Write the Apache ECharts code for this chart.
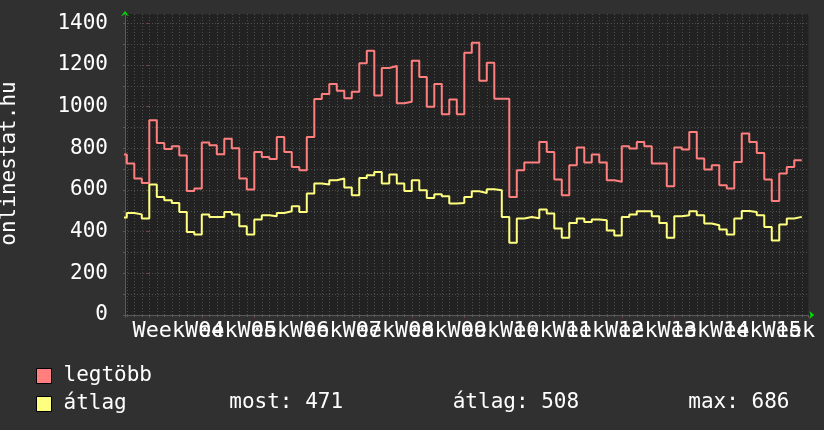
<!DOCTYPE html>
<html><head><meta charset="utf-8">
<script src="https://cdn.jsdelivr.net/npm/echarts@6/dist/echarts.min.js"></script>
<style>html,body{margin:0;padding:0;background:#303030;}#c{width:824px;height:430px;}</style>
</head><body><div id="c"></div>
<script>
// ---- data (daily values, first value is the partially visible day) ----
const seriesNames = ['legtöbb', 'átlag'];
const legtobb = [770,727,655,634,935,826,797,810,766,595,607,828,815,772,846,801,655,602,782,759,749,855,782,711,695,855,
  1037,1061,1109,1076,1041,1072,1208,1269,1054,1186,1195,1017,1024,1221,1142,1000,1109,964,1035,964,1259,1307,1125,1211,1038,1038,
  567,695,732,732,831,782,650,575,719,804,732,770,732,647,640,810,799,831,810,727,727,618,804,794,879,751,698,719,623,607,735,871,831,778,650,547,679,711,743];
const atlag = [468,490,483,463,626,567,551,538,494,398,387,483,470,470,494,483,426,387,458,479,474,490,498,522,494,583,
  631,626,647,655,612,575,658,671,686,631,674,631,595,647,599,562,580,570,535,538,567,594,586,604,599,470,
  347,463,470,465,507,487,415,371,442,463,446,459,455,406,382,470,483,498,498,474,442,371,474,479,498,479,439,431,411,387,463,499,494,479,422,358,435,463,471];
const firstDay = -4;           // day index of the first value (0 = first week boundary)
const weekLabels = ['Week 04','Week 05','Week 06','Week 07','Week 08','Week 09','Week 10','Week 11','Week 12','Week 13','Week 14','Week 15','Week 16'];
const statTexts = ['most: 471', 'átlag: 508', 'max: 686'];
const yTitle = 'onlinestat.hu';

// ---- styling ----
const FONT = 'DejaVu Sans Mono';
const X_MIN = -3.24, X_MAX = 87.87, Y_MAX = 1445;
const minorGrid = {color: '#4e4e4e', type: [1, 2], width: 1};
const majorGrid = {color: '#6e3434', type: [1, 2], width: 1};

function stepData(vals) {
  const d = vals.map((v, i) => [firstDay + i, v]);
  d.push([firstDay + vals.length, vals[vals.length - 1]]); // close the last step
  return d;
}

const chart = echarts.init(document.getElementById('c'), null, {renderer: 'canvas'});
chart.setOption({
  animation: false,
  backgroundColor: '#303030',
  textStyle: {fontFamily: FONT},
  grid: {left: 125, top: 14, width: 683.3, height: 301, show: true, backgroundColor: '#222222', borderWidth: 0,
    outerBoundsMode: 'none', containLabel: false},
  legend: {
    data: seriesNames, orient: 'vertical', left: 31, top: 357, itemWidth: 15, itemHeight: 15, itemGap: 0,
    icon: 'rect', selectedMode: false,
    itemStyle: {borderColor: '#000', borderWidth: 1},
    textStyle: {color: '#ffffff', fontFamily: FONT, fontSize: 21, lineHeight: 28, padding: [0, 0, 0, 7]}
  },
  xAxis: [
    { // daily minor grid
      type: 'value', position: 'bottom', min: X_MIN, max: X_MAX, minInterval: 1, maxInterval: 1, splitNumber: 91, z: 3,
      axisLine: {show: true, onZero: false, lineStyle: {color: '#5a5a5a', width: 1}},
      axisTick: {show: true, length: 2, lineStyle: {color: '#5a5a5a'}},
      axisLabel: {show: false},
      splitLine: {show: true, showMinLine: false, showMaxLine: false, lineStyle: minorGrid}
    },
    { // weekly major grid
      type: 'value', position: 'bottom', min: X_MIN, max: X_MAX, minInterval: 7, maxInterval: 7, splitNumber: 13,
      axisLine: {show: false}, axisTick: {show: true, length: 3, lineStyle: {color: '#8a3a3a'}},
      axisLabel: {show: false},
      splitLine: {show: true, showMinLine: false, showMaxLine: false, lineStyle: majorGrid}
    },
    { // week labels, centred mid-week
      type: 'value', position: 'bottom', min: X_MIN - 3.5, max: X_MAX - 3.5, minInterval: 7, maxInterval: 7, splitNumber: 13,
      axisLine: {show: false}, axisTick: {show: false}, splitLine: {show: false},
      axisLabel: {show: true, showMinLabel: false, showMaxLabel: false, hideOverlap: false,
        color: '#ffffff', fontFamily: FONT, fontSize: 21.8, lineHeight: 21, margin: 6, padding: [0, 0, 0, 6],
        formatter: v => weekLabels[Math.round(v / 7)] || ''}
    },
    { // green arrow
      type: 'value', position: 'bottom', min: X_MIN, max: X_MAX, z: 1,
      axisLine: {show: true, onZero: false, symbol: ['none', 'arrow'], symbolSize: [6, 5], symbolOffset: [0, 6],
        lineStyle: {color: '#00dd00', width: 0}},
      axisTick: {show: false}, axisLabel: {show: false}, splitLine: {show: false}
    }
  ],
  yAxis: [
    {
      type: 'value', position: 'left', min: 0, max: Y_MAX, interval: 100, z: 3,
      axisLine: {show: true, onZero: false, lineStyle: {color: '#5a5a5a', width: 1}},
      axisTick: {show: true, length: 2, lineStyle: {color: '#5a5a5a'}},
      axisLabel: {show: false},
      splitLine: {show: true, showMinLine: false, showMaxLine: false, lineStyle: minorGrid}
    },
    {
      type: 'value', position: 'left', min: 0, max: Y_MAX, interval: 200,
      axisLine: {show: false}, axisTick: {show: true, length: 3, lineStyle: {color: '#8a3a3a'}},
      axisLabel: {show: true, showMaxLabel: false, color: '#ffffff', fontFamily: FONT, fontSize: 21, margin: 17,
        formatter: v => String(v)},
      splitLine: {show: true, showMinLine: false, showMaxLine: false, lineStyle: majorGrid}
    },
    {
      type: 'value', position: 'left', min: 0, max: Y_MAX, z: 1,
      axisLine: {show: true, onZero: false, symbol: ['none', 'arrow'], symbolSize: [6, 5], symbolOffset: [0, 3],
        lineStyle: {color: '#00dd00', width: 0}},
      axisTick: {show: false}, axisLabel: {show: false}, splitLine: {show: false}
    }
  ],
  series: [
    {name: seriesNames[0], type: 'line', step: 'end', showSymbol: false, data: stepData(legtobb),
      color: '#ff7f7f', lineStyle: {color: '#ff7f7f', width: 2}, itemStyle: {color: '#ff7f7f'}},
    {name: seriesNames[1], type: 'line', step: 'end', showSymbol: false, data: stepData(atlag),
      color: '#ffff7f', lineStyle: {color: '#ffff7f', width: 2}, itemStyle: {color: '#ffff7f'}}
  ],
  graphic: [
    {type: 'text', x: 10, y: 163.5, rotation: Math.PI / 2,
      style: {text: yTitle, fill: '#ffffff', font: '21px "DejaVu Sans Mono"', textAlign: 'center', textVerticalAlign: 'middle', verticalAlign: 'middle'}},
    {type: 'text', x: 229.3, y: 402.5, style: {text: statTexts[0], fill: '#ffffff', font: '21px "DejaVu Sans Mono"', textAlign: 'left', textVerticalAlign: 'middle', verticalAlign: 'middle'}},
    {type: 'text', x: 452.7, y: 402.5, style: {text: statTexts[1], fill: '#ffffff', font: '21px "DejaVu Sans Mono"', textAlign: 'left', textVerticalAlign: 'middle', verticalAlign: 'middle'}},
    {type: 'text', x: 688.3, y: 402.5, style: {text: statTexts[2], fill: '#ffffff', font: '21px "DejaVu Sans Mono"', textAlign: 'left', textVerticalAlign: 'middle', verticalAlign: 'middle'}}
  ]
});
</script>
</body></html>
